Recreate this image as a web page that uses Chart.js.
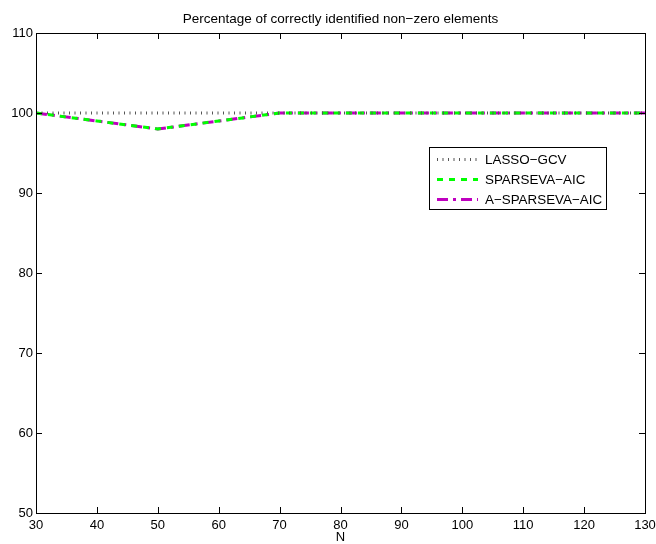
<!DOCTYPE html>
<html>
<head>
<meta charset="utf-8">
<script src="https://cdn.jsdelivr.net/npm/chart.js@4.4.1/dist/chart.umd.min.js"></script>
<style>
  html, body { margin: 0; padding: 0; background: #fff; }
  #wrap { width: 656px; height: 544px; }
</style>
</head>
<body>
<div id="wrap"><canvas id="pctChart" width="656" height="544"></canvas></div>
<script>
// data
const nValues = [30, 40, 50, 60, 70, 80, 90, 100, 110, 120, 130];
const lassoGcv = [100, 100, 100, 100, 100, 100, 100, 100, 100, 100, 100];
const sparsevaAic = [100, 99, 98, 99, 100, 100, 100, 100, 100, 100, 100];
const aSparsevaAic = [100, 99, 98, 99, 100, 100, 100, 100, 100, 100, 100];
const xTicks = [30, 40, 50, 60, 70, 80, 90, 100, 110, 120, 130];
const yTicks = [50, 60, 70, 80, 90, 100, 110];

const FONT = 'Liberation Sans, Arial, Helvetica, sans-serif';

function toPoints(ys) {
    return nValues.map((x, i) => ({ x: x, y: ys[i] }));
}

// title, box frame, inward ticks (matlab look)
const frameAndTitle = {
    id: 'frameAndTitle',
    afterDraw(chart) {
        const ctx = chart.ctx;
        const a = chart.chartArea;
        const xs = chart.scales.x, ys = chart.scales.y;
        ctx.save();
        ctx.strokeStyle = '#000';
        ctx.lineWidth = 1;
        ctx.beginPath();
        xTicks.forEach(v => {
            const px = Math.round(xs.getPixelForValue(v)) + 0.5;
            ctx.moveTo(px, a.bottom); ctx.lineTo(px, a.bottom - 6);
            ctx.moveTo(px, a.top); ctx.lineTo(px, a.top + 6);
        });
        yTicks.forEach(v => {
            const py = Math.round(ys.getPixelForValue(v)) + 0.5;
            ctx.moveTo(a.left, py); ctx.lineTo(a.left + 6, py);
            ctx.moveTo(a.right, py); ctx.lineTo(a.right - 6, py);
        });
        ctx.stroke();
        ctx.strokeRect(Math.round(a.left) + 0.5, Math.round(a.top) + 0.5,
            Math.round(a.right - a.left), Math.round(a.bottom - a.top));

        ctx.fillStyle = '#000';
        ctx.font = '13.5px ' + FONT;
        ctx.textAlign = 'center';
        ctx.textBaseline = 'middle';
        ctx.fillText('Percentage of correctly identified non\u2212zero elements', (a.left + a.right) / 2, 19);
        ctx.restore();
    }
};

// legend box inside the plot
const boxLegend = {
    id: 'boxLegend',
    afterDraw(chart) {
        const ctx = chart.ctx;
        const bx = 429, by = 147, bw = 177, bh = 62;
        ctx.save();
        ctx.fillStyle = '#fff';
        ctx.fillRect(bx, by, bw, bh);
        ctx.strokeStyle = '#000';
        ctx.lineWidth = 1;
        ctx.strokeRect(bx + 0.5, by + 0.5, bw, bh);
        chart.data.datasets.forEach((ds, i) => {
            const y = 159 + i * 20;
            ctx.beginPath();
            ctx.strokeStyle = ds.borderColor;
            ctx.lineWidth = ds.borderWidth;
            ctx.setLineDash(ds.borderDash || []);
            ctx.moveTo(437, y + 0.5);
            ctx.lineTo(478, y + 0.5);
            ctx.stroke();
            ctx.setLineDash([]);
            ctx.fillStyle = '#000';
            ctx.font = '13.4px ' + FONT;
            ctx.textAlign = 'left';
            ctx.textBaseline = 'middle';
            ctx.fillText(ds.label, 485, y + 1);
        });
        ctx.restore();
    }
};

new Chart(document.getElementById('pctChart').getContext('2d'), {
    type: 'line',
    data: {
        datasets: [
            {
                label: 'LASSO\u2212GCV',
                data: toPoints(lassoGcv),
                borderColor: '#555555',
                borderWidth: 3,
                borderDash: [1, 4.5],
                pointRadius: 0,
                fill: false
            },
            {
                label: 'SPARSEVA\u2212AIC',
                data: toPoints(sparsevaAic),
                borderColor: '#00ff00',
                borderWidth: 3,
                borderDash: [6, 6],
                pointRadius: 0,
                fill: false
            },
            {
                label: 'A\u2212SPARSEVA\u2212AIC',
                data: toPoints(aSparsevaAic),
                borderColor: '#bf00bf',
                borderWidth: 3,
                borderDash: [11, 5, 3, 5],
                pointRadius: 0,
                fill: false
            }
        ]
    },
    options: {
        responsive: false,
        animation: false,
        layout: { padding: { top: 33, right: 11, left: 0, bottom: 0 } },
        plugins: {
            legend: { display: false },
            title: { display: false },
            tooltip: { enabled: false }
        },
        scales: {
            x: {
                type: 'linear',
                min: 30,
                max: 130,
                afterFit(scale) {
                    scale.height = 31;
                    scale.paddingLeft = 0;
                    scale.paddingRight = 0;
                },
                afterBuildTicks(scale) { scale.ticks = xTicks.map(v => ({ value: v })); },
                grid: { display: false, drawTicks: false },
                border: { display: false },
                ticks: { color: '#000', font: { family: FONT, size: 13 }, padding: 5, maxRotation: 0, autoSkip: false },
                title: { display: true, text: 'N', color: '#000', font: { family: FONT, size: 13 }, padding: { top: 0, bottom: -1 } }
            },
            y: {
                min: 50,
                max: 110,
                afterFit(scale) {
                    scale.width = 36;
                    scale.paddingTop = 0;
                    scale.paddingBottom = 0;
                },
                afterBuildTicks(scale) { scale.ticks = yTicks.map(v => ({ value: v })); },
                grid: { display: false, drawTicks: false },
                border: { display: false },
                ticks: { color: '#000', font: { family: FONT, size: 13 }, padding: 3 }
            }
        }
    },
    plugins: [frameAndTitle, boxLegend]
});
</script>
</body>
</html>
